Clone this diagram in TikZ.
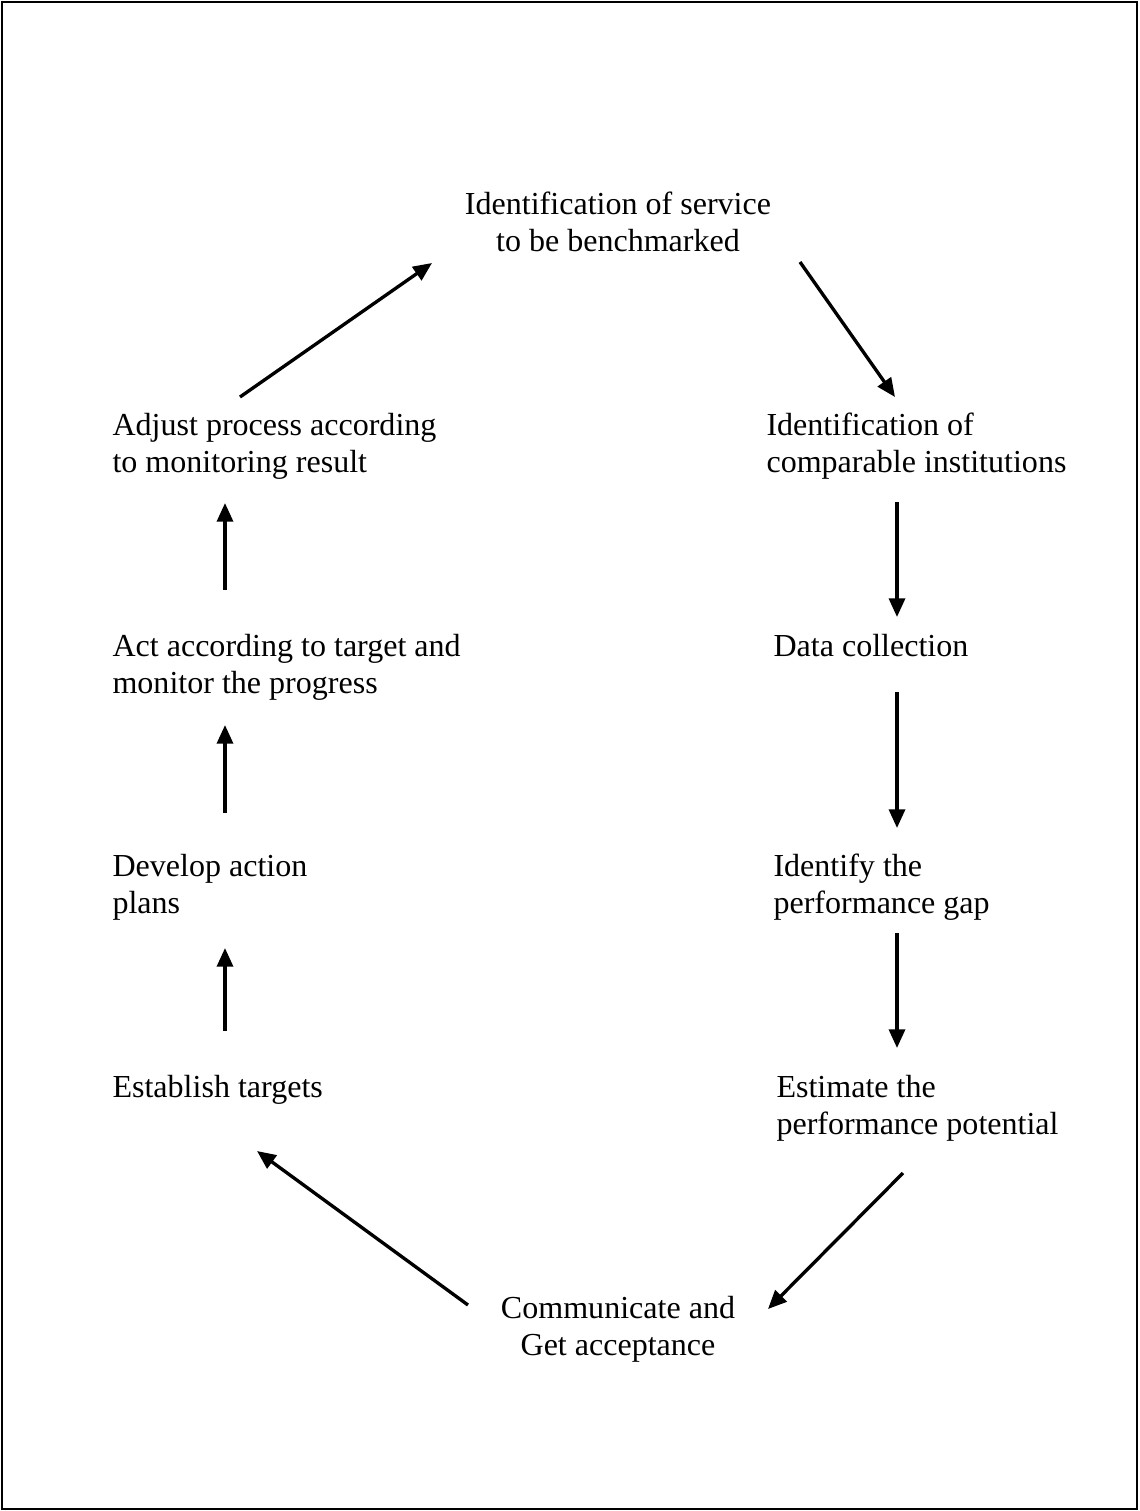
\documentclass[tikz,border=0pt]{standalone}
\usepackage{fontspec}
\setmainfont{Liberation Serif}
\usetikzlibrary{arrows.meta}

\begin{document}
\begin{tikzpicture}[x=0.3745pt, y=-0.3745pt]
	\tikzstyle{phase}=[inner sep=0pt, font=\fontsize{12}{13.8}\selectfont, align=left, anchor=base west];
	\tikzstyle{flow}=[-{Triangle[length=7pt, width=6pt]}, line width=1.25pt];

	\useasboundingbox (0, 0) rectangle (1139, 1511);
	\draw[line width=0.9pt] (2, 2) rectangle (1137, 1509);

	% base of a two-line node is its last line
	\node[phase, align=center, anchor=base] (service) at (618, 251) {Identification of service\\to be benchmarked};
	\node[phase] (institutions) at (766, 472) {Identification of\\comparable institutions};
	\node[phase] (data) at (773, 656) {Data collection};
	\node[phase] (gap) at (773, 913) {Identify the\\performance gap};
	\node[phase] (potential) at (776, 1134) {Estimate the\\performance potential};
	\node[phase, align=center, anchor=base] (accept) at (618, 1355) {Communicate and\\Get acceptance};
	\node[phase] (targets) at (112, 1097) {Establish targets};
	\node[phase] (plans) at (112, 913) {Develop action\\plans};
	\node[phase] (act) at (112, 693) {Act according to target and\\monitor the progress};
	\node[phase] (adjust) at (112, 472) {Adjust process according\\to monitoring result};

	% arrow ends
	\coordinate (s1) at (240, 397);   \coordinate (t1) at (432, 263);
	\coordinate (s2) at (800, 262);   \coordinate (t2) at (895, 397);
	\coordinate (s3) at (897, 502);   \coordinate (t3) at (897, 617);
	\coordinate (s4) at (897, 692);   \coordinate (t4) at (897, 828);
	\coordinate (s5) at (897, 933);   \coordinate (t5) at (897, 1048);
	\coordinate (s6) at (903, 1173);  \coordinate (t6) at (768, 1309);
	\coordinate (s7) at (468, 1305);  \coordinate (t7) at (257, 1151);
	\coordinate (s8) at (225, 1031);  \coordinate (t8) at (225, 948);
	\coordinate (s9) at (225, 813);   \coordinate (t9) at (225, 725);
	\coordinate (s10) at (225, 590);  \coordinate (t10) at (225, 503);

	\draw (s1) edge[flow] (t1);
	\draw (s2) edge[flow] (t2);
	\draw (s3) edge[flow] (t3);
	\draw (s4) edge[flow] (t4);
	\draw (s5) edge[flow] (t5);
	\draw (s6) edge[flow] (t6);
	\draw (s7) edge[flow] (t7);
	\draw (s8) edge[flow] (t8);
	\draw (s9) edge[flow] (t9);
	\draw (s10) edge[flow] (t10);

\end{tikzpicture}
\end{document}
